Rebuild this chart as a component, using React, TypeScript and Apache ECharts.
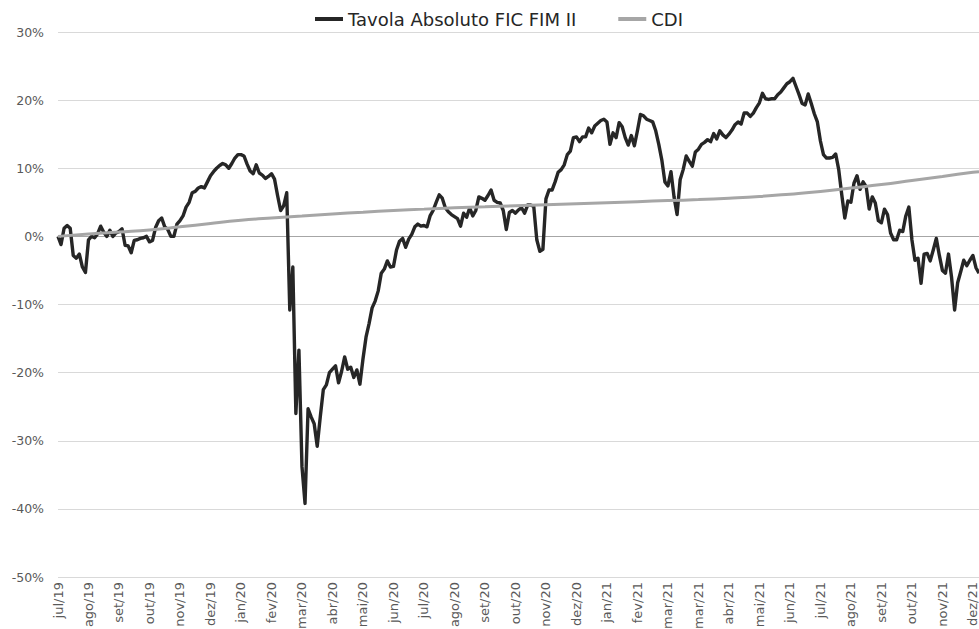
import React, { useEffect, useRef } from "react";
import * as echarts from "echarts";

// Axis tick labels (one every 10 samples, as in the source chart)
const monthLabels = [
  "jul/19", "ago/19", "set/19", "out/19", "nov/19", "dez/19",
  "jan/20", "fev/20", "mar/20", "abr/20", "mai/20", "jun/20",
  "jul/20", "ago/20", "set/20", "out/20", "nov/20", "dez/20",
  "jan/21", "fev/21", "mar/21", "mar/21", "abr/21", "mai/21",
  "jun/21", "jul/21", "ago/21", "set/21", "out/21", "nov/21", "dez/21",
];

// Tavola Absoluto FIC FIM II – cumulative return (%), samples 0..99
const fundValuesA = [
  0, -1.2, 1.2, 1.6, 1.2, -2.8, -3.2, -2.6, -4.5, -5.3,
  -0.5, 0, -0.2, 0.4, 1.5, 0.6, 0.0, 0.9, 0.0, 0.5,
  0.7, 1.1, -1.3, -1.4, -2.4, -0.6, -0.5, -0.3, -0.2, 0.0,
  -0.8, -0.6, 1.3, 2.3, 2.7, 1.4, 1.0, 0.0, 0.0, 1.8,
  2.3, 3.0, 4.3, 5.0, 6.4, 6.6, 7.1, 7.3, 7.1, 8.0,
  8.9, 9.5, 10.0, 10.4, 10.7, 10.5, 10.0, 10.7, 11.5, 12.0,
  12.0, 11.8, 10.6, 9.6, 9.2, 10.5, 9.3, 9.0, 8.5, 8.8,
  9.2, 8.4, 6.0, 3.8, 4.5, 6.4, -10.8, -4.5, -26.0, -16.7,
  -33.8, -39.2, -25.3, -26.5, -27.5, -30.8, -26.5, -22.5, -21.8, -20.0,
  -19.5, -19.0, -21.5, -19.8, -17.7, -19.5, -19.2, -20.7, -19.6, -21.7,
];

// samples 100..199
const fundValuesB = [
  -18.0, -14.8, -12.8, -10.5, -9.5, -8.0, -5.4, -4.8, -3.6, -4.5,
  -4.4, -2.0, -0.7, -0.3, -1.6, -0.4, 0.3, 1.4, 1.8, 1.5,
  1.6, 1.4, 3.0, 3.8, 5.0, 6.1, 5.6, 4.2, 3.6, 3.2,
  2.9, 2.6, 1.5, 3.4, 2.8, 4.2, 3.0, 3.8, 5.8, 5.6,
  5.3, 6.0, 6.8, 5.3, 5.0, 4.9, 3.8, 1.0, 3.5, 3.8,
  3.4, 3.9, 4.2, 3.4, 4.6, 4.6, 4.4, -0.5, -2.2, -1.9,
  5.5, 6.8, 6.8, 8.0, 9.4, 9.8, 10.5, 12.0, 12.5, 14.5,
  14.6, 13.9, 14.6, 14.6, 15.9, 15.2, 16.2, 16.6, 17.0, 17.2,
  16.8, 13.5, 15.2, 14.5, 16.7, 16.1, 14.5, 13.4, 14.8, 13.3,
  15.5, 17.9, 17.7, 17.2, 17.0, 16.8, 15.5, 13.5, 11.2, 8.0,
];

// samples 200..302
const fundValuesC = [
  7.4, 9.5, 5.8, 3.2, 8.3, 9.8, 11.8, 11.0, 10.3, 12.4,
  12.8, 13.5, 13.8, 14.2, 13.9, 15.1, 14.3, 15.5, 14.9, 14.5,
  15.0, 15.6, 16.4, 16.8, 16.5, 18.1, 18.1, 17.6, 18.1, 18.9,
  19.6, 21.0, 20.2, 20.1, 20.2, 20.2, 20.8, 21.2, 21.8, 22.4,
  22.7, 23.2, 22.0, 20.8, 19.5, 19.3, 20.9, 19.5, 18.0, 16.8,
  14.0, 12.0, 11.5, 11.5, 11.6, 12.1, 9.8, 6.1, 2.7, 5.2,
  5.0, 7.8, 8.9, 6.9, 8.0, 7.3, 4.0, 5.8, 4.9, 2.3,
  2.0, 4.0, 3.2, 0.5, -0.5, -0.5, 0.9, 0.7, 3.0, 4.3,
  -0.5, -3.5, -3.2, -6.9, -2.6, -2.5, -3.6, -2.0, -0.3, -2.8,
  -5.0, -5.4, -2.6, -6.0, -10.8, -6.8, -5.2, -3.5, -4.3, -3.5,
  -2.8, -4.6, -5.4,
];

// CDI cumulative (%), read at each month tick, plus last sample
const cdiMonthly = [
  0, 0.35, 0.65, 0.95, 1.4, 1.9, 2.35, 2.7, 3.0, 3.3,
  3.55, 3.8, 4.0, 4.2, 4.35, 4.5, 4.65, 4.8, 4.95, 5.1,
  5.25, 5.4, 5.6, 5.85, 6.2, 6.6, 7.1, 7.6, 8.2, 8.8, 9.4,
];
const cdiLast = 9.5;

const SAMPLES_PER_TICK = 10;
const FONT = "'DejaVu Sans', sans-serif";

export default function App() {
  const ref = useRef<HTMLDivElement>(null);

  useEffect(() => {
    if (!ref.current) return;
    const chart = echarts.init(ref.current, null, { renderer: "svg" });

    const fund = [...fundValuesA, ...fundValuesB, ...fundValuesC];
    const categories = fund.map(
      (_, i) => monthLabels[Math.min(Math.floor(i / SAMPLES_PER_TICK), monthLabels.length - 1)]
    );
    const cdi: [number, number][] = cdiMonthly.map((v, m) => [m * SAMPLES_PER_TICK, v]);
    cdi.push([fund.length - 1, cdiLast]);

    const gridColors = ["#d9d9d9", "#d9d9d9", "#d9d9d9", "#d9d9d9", "#d9d9d9", "#a6a6a6", "#d9d9d9", "#d9d9d9", "#d9d9d9"];

    chart.setOption({
      animation: false,
      backgroundColor: "#ffffff",
      textStyle: { fontFamily: FONT },
      legend: {
        left: 315,
        top: 10,
        padding: 0,
        itemGap: 42,
        itemWidth: 28,
        itemHeight: 4,
        icon: "rect",
        textStyle: { fontFamily: FONT, fontSize: 18, color: "#262626" },
        data: ["Tavola Absoluto FIC FIM II", "CDI"],
      },
      grid: {
        left: 58,
        right: 0,
        top: 32,
        bottom: 52,
        containLabel: false,
        outerBoundsMode: "none",
      },
      xAxis: {
        type: "category",
        data: categories,
        boundaryGap: false,
        axisLine: { show: false },
        axisTick: { show: false },
        splitLine: { show: false },
        axisLabel: {
          interval: SAMPLES_PER_TICK - 1,
          rotate: 90,
          margin: 5,
          color: "#595959",
          fontSize: 13,
          fontFamily: FONT,
          hideOverlap: false,
        },
      },
      yAxis: {
        type: "value",
        min: -50,
        max: 30,
        interval: 10,
        axisLine: { show: false },
        axisTick: { show: false },
        axisLabel: {
          formatter: "{value}%",
          color: "#595959",
          fontSize: 12.5,
          margin: 14,
          fontFamily: FONT,
        },
        splitLine: { show: true, lineStyle: { color: gridColors, width: 1 } },
      },
      series: [
        {
          name: "Tavola Absoluto FIC FIM II",
          type: "line",
          data: fund,
          showSymbol: false,
          symbol: "none",
          color: "#262626",
          lineStyle: { color: "#262626", width: 3.4, join: "round" },
          z: 2,
        },
        {
          name: "CDI",
          type: "line",
          data: cdi,
          smooth: true,
          showSymbol: false,
          symbol: "none",
          color: "#a6a6a6",
          lineStyle: { color: "#a6a6a6", width: 3 },
          z: 3,
        },
      ],
    });

    return () => chart.dispose();
  }, []);

  return (
    <div
      ref={ref}
      style={{ position: "fixed", left: 0, top: 0, width: 979, height: 629, background: "#fff" }}
    />
  );
}
